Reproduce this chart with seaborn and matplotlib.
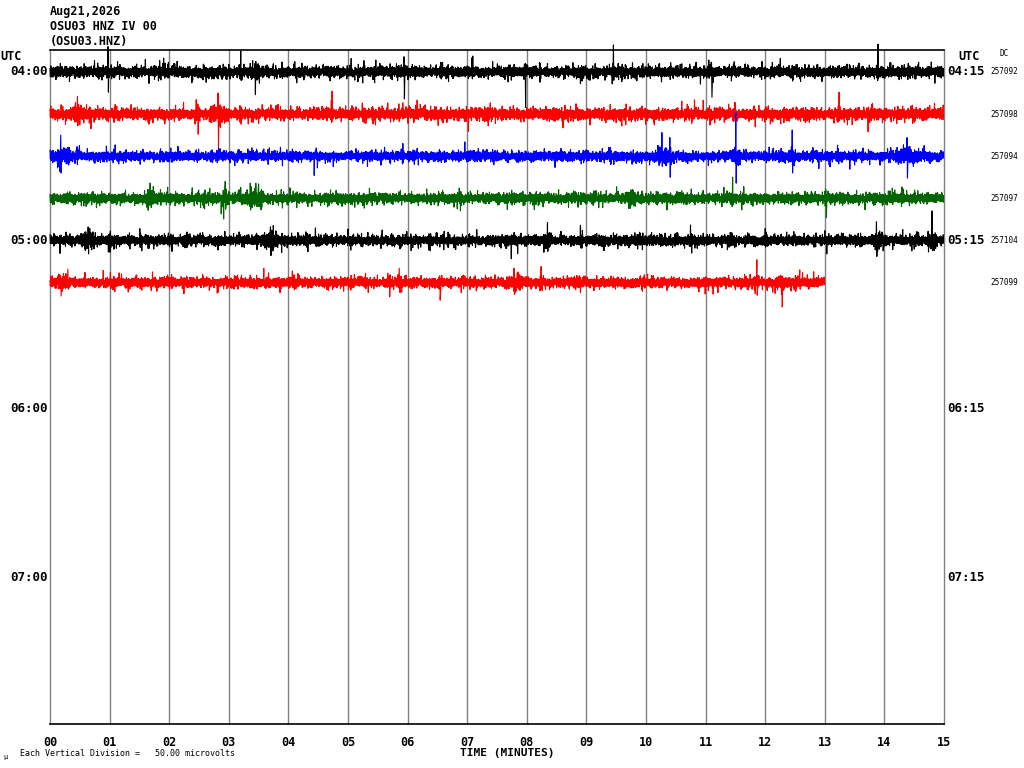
import numpy as np
import pandas as pd
import matplotlib
matplotlib.use('Agg')
import matplotlib.pyplot as plt
import matplotlib.transforms as mtransforms
import seaborn as sns

# DATA -------------------------------------------------------------------------------
header_lines = ['Aug21,2026', 'OSU03 HNZ IV 00', '(OSU03.HNZ)']
left_labels = ['04:00', '05:00', '06:00', '07:00']
right_labels = ['04:15', '05:15', '06:15', '07:15']
label_rows = [0, 4, 8, 12]
dc_values = ['257092', '257098', '257094', '257097', '257104', '257099']
row_colors = ['#000000', '#ff0000', '#0000ff', '#006400', '#000000', '#ff0000']
row_end_min = [15, 15, 15, 15, 15, 13]      # last line stops at minute 13
noise_core_uv = [4.4, 4.6, 4.0, 4.1, 4.2, 4.1]   # steady band half-width per line
noise_uv = [1.9, 2.0, 1.7, 1.8, 1.8, 1.8]        # extra scatter per line (microvolts)
uv_per_division = 50.0

# events: (minute, peak up uV, peak down uV, burst length min)
row_events = [
    [(0.97, 30, -24, 0.05), (3.20, 25, -10, 0.05), (3.44, 10, -27, 0.15), (5.94, 18, -32, 0.05),
     (7.97, 10, -42, 0.04), (9.45, 32, -10, 0.04), (11.10, 10, -30, 0.04), (13.89, 33, -8, 0.05)],
    [(0.46, 21, -14, 0.15), (2.48, 12, -24, 0.08), (2.82, 25, -40, 0.30), (4.73, 27, -8, 0.04),
     (7.35, 8, -14, 0.10), (13.24, 26, -8, 0.04)],
    [(0.18, 25, -20, 0.30), (5.92, 15, -8, 0.05), (10.27, 28, -12, 0.15), (10.40, 22, -25, 0.15),
     (11.51, 52, -32, 0.15), (12.45, 31, -20, 0.12), (14.38, 22, -26, 0.40)],
    [(1.68, 18, -8, 0.15), (2.94, 20, -13, 0.15), (3.36, 18, -14, 0.20), (3.50, 17, -10, 0.10),
     (6.88, 8, -15, 0.05), (9.75, 10, -8, 0.15), (11.45, 25, -8, 0.04), (13.02, 8, -23, 0.04),
     (14.30, 10, -6, 0.05)],
    [(0.64, 16, -16, 0.25), (1.00, 8, -14, 0.05), (2.30, 10, -8, 0.10), (3.70, 16, -18, 0.25),
     (8.35, 21, -13, 0.10), (8.90, 18, -8, 0.08), (10.76, 8, -15, 0.05), (12.00, 14, -8, 0.05),
     (13.87, 22, -19, 0.15), (14.80, 35, -12, 0.15)],
    [(0.18, 8, -16, 0.10), (0.30, 16, -8, 0.08), (5.69, 8, -17, 0.05), (5.86, 17, -8, 0.05),
     (6.54, 8, -21, 0.05), (7.79, 17, -14, 0.20), (8.24, 19, -8, 0.05), (11.86, 27, -15, 0.08),
     (12.28, 8, -29, 0.08), (12.58, 15, -8, 0.05)],
]
# END DATA ---------------------------------------------------------------------------


# BUILD TRACES -----------------------------------------------------------------------
samples_per_min = 150
rng = np.random.default_rng(21)   # background texture only
frames = []
for row, (end, core, sd, evs) in enumerate(zip(row_end_min, noise_core_uv, noise_uv, row_events)):
    t = np.arange(0, end, 1 / samples_per_min)
    sign = np.where(np.arange(t.size) % 2 == 0, 1.0, -1.0)
    amp = sign * (core * rng.uniform(0.35, 1.0, t.size) + rng.exponential(sd, t.size))
    for tm, up, dn, span in evs:
        burst = np.abs(t - tm) < span / 2
        amp[burst] *= 1.6
        i = int(round(tm * samples_per_min))
        if i + 1 < t.size:
            amp[i] = up
            amp[i + 1] = dn
    frames.append(pd.DataFrame({'minute': t,
                                'y': row - amp / uv_per_division,
                                'row': row}))
df = pd.concat(frames, ignore_index=True)
# END --------------------------------------------------------------------------------


# PLOT -------------------------------------------------------------------------------
sns.set_style('white')
plt.rcParams['font.family'] = ['DejaVu Sans Mono', 'DejaVu Sans']
plt.rcParams['text.color'] = 'black'
plt.rcParams['axes.labelcolor'] = 'black'
plt.rcParams['xtick.color'] = 'black'

fig = plt.figure(figsize=(10.24, 7.68), dpi=100)
ax = fig.add_axes([50 / 1024, 1 - 724 / 768, 894 / 1024, 674 / 768])

# minute grid lines
for m in range(16):
    ax.axvline(m, color='#808080', lw=1, zorder=1, clip_on=False)

sns.lineplot(data=df, x='minute', y='y', hue='row', palette=row_colors,
             estimator=None, sort=False, legend=False, lw=0.8, ax=ax, zorder=2)
for line in ax.get_lines():
    line.set_clip_on(False)

ax.set_xlim(0, 15)
ax.set_ylim(15.48, -0.52)

for side in ['left', 'right']:
    ax.spines[side].set_visible(False)
for side in ['top', 'bottom']:
    ax.spines[side].set_color('black')
    ax.spines[side].set_linewidth(1.2)

ax.set_xticks(range(16))
ax.set_xticklabels([f'{m:02d}' for m in range(16)], fontsize=8.5, fontweight='bold')
ax.set_xticks(np.arange(0, 15.01, 1 / 6), minor=True)
ax.tick_params(axis='x', which='major', direction='out', length=9, width=1, color='black', pad=0)
ax.tick_params(axis='x', which='minor', direction='out', length=6, width=1, color='black')
ax.set_yticks([])
ax.set_xlabel('')
ax.set_ylabel('')
fig.text(460 / 1024, 1 - 753 / 768, 'TIME (MINUTES)', ha='left', va='center',
         fontsize=8, fontweight='bold')

# hour labels left and right
trans = mtransforms.blended_transform_factory(fig.transFigure, ax.transData)
for r, lab in zip(label_rows, left_labels):
    ax.text(48 / 1024, r, lab, transform=trans, ha='right', va='center',
            fontsize=9, fontweight='bold')
for r, lab in zip(label_rows, right_labels):
    ax.text(947 / 1024, r, lab, transform=trans, ha='left', va='center',
            fontsize=9, fontweight='bold')
for r, val in enumerate(dc_values):
    ax.text(990 / 1024, r, val, transform=trans, ha='left', va='center', fontsize=5.5)

# header
for k, line in enumerate(header_lines):
    fig.text(50 / 1024, 1 - (12 + 14.5 * k) / 768, line, ha='left', va='center',
             fontsize=8.5, fontweight='bold')
fig.text(0, 1 - 57 / 768, 'UTC', ha='left', va='center', fontsize=8.5, fontweight='bold')
fig.text(958 / 1024, 1 - 57 / 768, 'UTC', ha='left', va='center', fontsize=8.5, fontweight='bold')
fig.text(1000 / 1024, 1 - 54 / 768, 'DC', ha='left', va='center', fontsize=5.5)
fig.text(20 / 1024, 1 - 754 / 768, 'Each Vertical Division =   50.00 microvolts',
         ha='left', va='center', fontsize=6)
fig.text(3 / 1024, 1 - 757 / 768, 'μ', ha='left', va='center', fontsize=5)

fig.savefig('out.png', dpi=100, facecolor='white')
# END PLOT ---------------------------------------------------------------------------
